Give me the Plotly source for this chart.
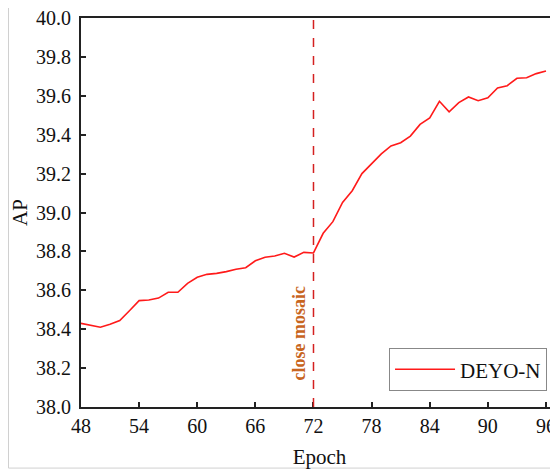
import plotly.graph_objects as go

epochs = list(range(48, 97))
ap = [38.43, 38.42, 38.41, 38.425, 38.445, 38.495, 38.547, 38.55, 38.56, 38.59,
      38.59, 38.636, 38.667, 38.682, 38.687, 38.696, 38.708, 38.716, 38.752, 38.77,
      38.776, 38.79, 38.771, 38.795, 38.792, 38.893, 38.953, 39.052, 39.112, 39.2,
      39.249, 39.301, 39.342, 39.359, 39.393, 39.453, 39.486, 39.572, 39.518, 39.565,
      39.594, 39.575, 39.59, 39.64, 39.652, 39.69, 39.693, 39.714, 39.728]
x_ticks = [48, 54, 60, 66, 72, 78, 84, 90, 96]
y_ticks = [38.0, 38.2, 38.4, 38.6, 38.8, 39.0, 39.2, 39.4, 39.6, 39.8, 40.0]
close_epoch = 72
series_name = "DEYO-N"
note = "close mosaic"

font = "Liberation Serif, 'Times New Roman', serif"
fig = go.Figure()
fig.add_trace(go.Scatter(x=epochs, y=ap, mode="lines", name=series_name,
                         line=dict(color="#ff1a1a", width=1.6)))

fig.add_shape(type="line", x0=close_epoch, x1=close_epoch, y0=0, y1=1, xref="x", yref="paper",
              line=dict(color="#d42020", width=1.5, dash="dash"))
fig.add_annotation(x=close_epoch, y=38.38, xref="x", yref="y", text="<b>" + note + "</b>",
                   textangle=-90, showarrow=False, xanchor="right", yanchor="middle", xshift=-2,
                   font=dict(family=font, size=18, color="#c8651e"))
# outer light border
fig.add_shape(type="line", xref="paper", yref="paper", x0=-0.152, x1=-0.152, y0=-0.157, y1=1.05,
              line=dict(color="#d0d0d0", width=1))
fig.add_shape(type="line", xref="paper", yref="paper", x0=-0.152, x1=1.1, y0=-0.157, y1=-0.157,
              line=dict(color="#d0d0d0", width=1))

fig.update_layout(
    width=550, height=462,
    margin=dict(l=73, r=0, t=10, b=63, autoexpand=False),
    paper_bgcolor="white", plot_bgcolor="white",
    font=dict(family=font, size=18, color="#111"),
    showlegend=True,
    legend=dict(x=0.977, y=0.096, xanchor="right", yanchor="middle",
                bordercolor="#888", borderwidth=1, bgcolor="white",
                font=dict(family=font, size=21, color="#111"),
                itemwidth=60),
)
fig.update_xaxes(range=[48, 97.24], tickvals=x_ticks, ticks="inside", ticklen=5, tickwidth=1.5,
                 tickcolor="#222", showline=True, linecolor="#222", linewidth=2, mirror=True,
                 showgrid=False, zeroline=False, automargin=False, ticklabeloverflow="allow",
                 title=dict(text="Epoch", font=dict(family=font, size=21), standoff=13),
                 tickfont=dict(family=font, size=20))
fig.update_yaxes(range=[38.0, 40.0], tickvals=y_ticks, tickformat=".1f", ticks="inside", ticklen=5,
                 tickwidth=1.5, tickcolor="#222", showline=True, linecolor="#222", linewidth=2,
                 mirror=False, showgrid=False, zeroline=False, automargin=False,
                 ticklabeloverflow="allow", ticklabelstandoff=4,
                 title=dict(text="AP", font=dict(family=font, size=21), standoff=8),
                 tickfont=dict(family=font, size=20))

fig.write_html("out.html")
